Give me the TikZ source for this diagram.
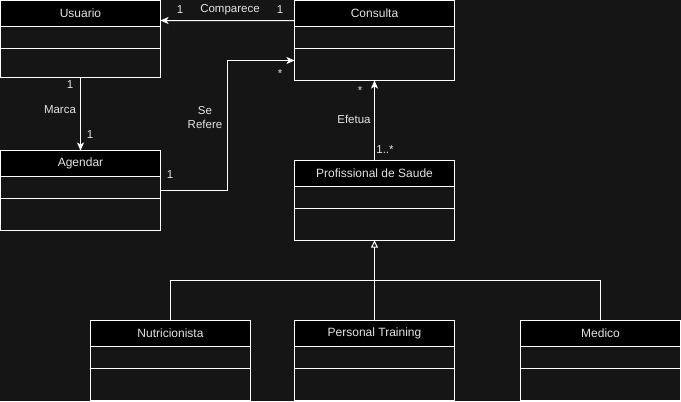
\documentclass[tikz,border=0pt]{standalone}
\usepackage{fontspec}
\setmainfont{Liberation Sans}
\usetikzlibrary{arrows.meta}
\definecolor{bgc}{HTML}{151515}
\definecolor{txc}{HTML}{E4E4E4}
\tikzset{
  clsbody/.style={draw=white, line width=1bp, minimum width=160bp, inner sep=0pt, outer sep=0pt},
  clshead/.style={draw=white, fill=black, line width=1bp, minimum width=160bp, minimum height=26bp, inner sep=0pt, outer sep=0pt, text=txc, font=\fontsize{12bp}{14bp}\selectfont},
  lbl/.style={text=txc, inner sep=0pt, font=\fontsize{11.5bp}{14bp}\selectfont, align=center},
  wire/.style={draw=white, line width=1bp},
  arr/.style={wire, -{Stealth[length=8bp, width=7bp, inset=2bp]}},
  gen/.style={wire, -{Triangle[open, length=7bp, width=7bp, fill=bgc]}}
}
% name, center x, top y, height, title
\newcommand\umlclass[5]{%
  \node[clsbody, minimum height=#4bp] (#1) at (#2,#3+#4/2) {};
  \node[clshead] (#1-h) at (#2,#3+13) {#5};
  \draw[white, line width=1bp] ([yshift=-48bp]#1.north west) -- ([yshift=-48bp]#1.north east);
}
\begin{document}
\begin{tikzpicture}[x=1bp, y=-1bp]
\fill[bgc] (0,0) rectangle (681,401);
\useasboundingbox (0,0) rectangle (681,401);
\umlclass{usu}{80.5}{0.5}{77}{Usuario}
\umlclass{age}{80.5}{150.5}{80}{Agendar}
\umlclass{cons}{374.5}{0.5}{80}{Consulta}
\umlclass{prof}{374.5}{160.5}{80}{Profissional de Saude}
\umlclass{nut}{170.5}{320.5}{80}{Nutricionista}
\umlclass{pt}{374.5}{320.5}{80}{Personal Training}
\umlclass{med}{600.5}{320.5}{80}{Medico}
% associations
\draw[arr] ([yshift=-20bp]cons.north west) -- ([yshift=-20bp]usu.north east);
\draw[arr] (usu.south) -- (age.north);
\draw[arr] ([yshift=-40bp]age.north east) -- ++(67,0) |- ([yshift=-60bp]cons.north west);
\draw[arr] (prof.north) -- (cons.south);
% generalization
\coordinate (gj) at (374.5,280.5);
\draw[wire] (nut.north) |- (gj) -| (med.north);
\draw[gen] (pt.north) -- (prof.south);
% labels
\node[lbl] (l1) at (180,10) {1};
\node[lbl] (l2) at (230,10) {Comparece};
\node[lbl] (l3) at (280,10) {1};
\node[lbl] (l4) at (70,85) {1};
\node[lbl] (l5) at (60,110) {Marca};
\node[lbl] (l6) at (90,135) {1};
\node[lbl] (l7) at (205,118) {Se\\Refere};
\node[lbl] (l8) at (170,175) {1};
\node[lbl] (l9) at (280,74) {*};
\node[lbl] (l10) at (360,91) {*};
\node[lbl] (l11) at (354,119) {Efetua};
\node[lbl] (l12) at (385,150) {1..*};
\end{tikzpicture}
\end{document}
